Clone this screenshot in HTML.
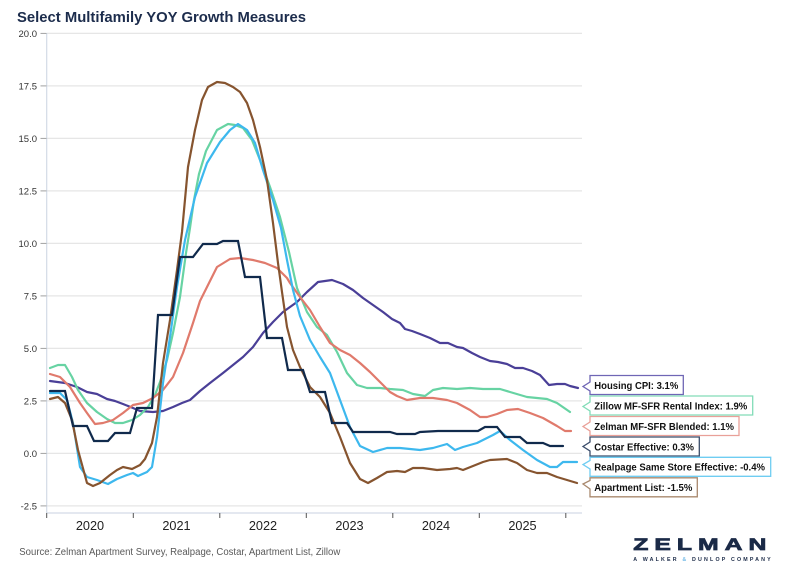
<!DOCTYPE html>
<html><head><meta charset="utf-8"><style>
html,body{margin:0;padding:0;background:#fff;}
svg{display:block;font-family:"Liberation Sans",Arial,sans-serif;}
</style></head><body>
<svg width="800" height="576" viewBox="0 0 800 576" xmlns="http://www.w3.org/2000/svg">
<rect width="800" height="576" fill="#fff"/>
<text x="17" y="22" font-size="15" font-weight="bold" fill="#1c2c4c" textLength="289" lengthAdjust="spacingAndGlyphs">Select Multifamily YOY Growth Measures</text>
<!-- gridlines -->
<g stroke="#e6e6e6" stroke-width="1.3">
<line x1="47" y1="33.4" x2="582" y2="33.4"/>
<line x1="47" y1="85.9" x2="582" y2="85.9"/>
<line x1="47" y1="138.4" x2="582" y2="138.4"/>
<line x1="47" y1="190.9" x2="582" y2="190.9"/>
<line x1="47" y1="243.4" x2="582" y2="243.4"/>
<line x1="47" y1="295.9" x2="582" y2="295.9"/>
<line x1="47" y1="348.4" x2="582" y2="348.4"/>
<line x1="47" y1="400.9" x2="582" y2="400.9"/>
<line x1="47" y1="453.4" x2="582" y2="453.4"/>
<line x1="47" y1="505.9" x2="582" y2="505.9"/>
</g>
<!-- y axis -->
<line x1="46.7" y1="33" x2="46.7" y2="513" stroke="#d3dbe6" stroke-width="1.2"/>
<g stroke="#a0a0a0" stroke-width="1">
<line x1="40.5" y1="33.4" x2="46.5" y2="33.4"/>
<line x1="40.5" y1="85.9" x2="46.5" y2="85.9"/>
<line x1="40.5" y1="138.4" x2="46.5" y2="138.4"/>
<line x1="40.5" y1="190.9" x2="46.5" y2="190.9"/>
<line x1="40.5" y1="243.4" x2="46.5" y2="243.4"/>
<line x1="40.5" y1="295.9" x2="46.5" y2="295.9"/>
<line x1="40.5" y1="348.4" x2="46.5" y2="348.4"/>
<line x1="40.5" y1="400.9" x2="46.5" y2="400.9"/>
<line x1="40.5" y1="453.4" x2="46.5" y2="453.4"/>
<line x1="40.5" y1="505.9" x2="46.5" y2="505.9"/>
</g>
<g font-size="9.5" fill="#333" text-anchor="end">
<text x="37" y="36.8">20.0</text>
<text x="37" y="89.3">17.5</text>
<text x="37" y="141.8">15.0</text>
<text x="37" y="194.3">12.5</text>
<text x="37" y="246.8">10.0</text>
<text x="37" y="299.3">7.5</text>
<text x="37" y="351.8">5.0</text>
<text x="37" y="404.3">2.5</text>
<text x="37" y="456.8">0.0</text>
<text x="37" y="509.3">-2.5</text>
</g>
<!-- x axis -->
<line x1="46.7" y1="513" x2="582" y2="513" stroke="#d3dbe6" stroke-width="1.2"/>
<g stroke="#555" stroke-width="1">
<line x1="46.7" y1="513" x2="46.7" y2="518"/>
<line x1="133.3" y1="513" x2="133.3" y2="518"/>
<line x1="219.8" y1="513" x2="219.8" y2="518"/>
<line x1="306.3" y1="513" x2="306.3" y2="518"/>
<line x1="392.8" y1="513" x2="392.8" y2="518"/>
<line x1="479.3" y1="513" x2="479.3" y2="518"/>
<line x1="565.8" y1="513" x2="565.8" y2="518"/>
</g>
<g font-size="12.7" fill="#222" text-anchor="middle">
<text x="90" y="530">2020</text>
<text x="176.5" y="530">2021</text>
<text x="263" y="530">2022</text>
<text x="349.5" y="530">2023</text>
<text x="436" y="530">2024</text>
<text x="522.5" y="530">2025</text>
</g>
<!-- series -->
<g fill="none" stroke-width="2.2" stroke-linejoin="round" stroke-linecap="round">
<polyline stroke="#4a3f97" points="50,381 65,383 77,387 87,392 97,394 107,399 115,401 123,404 133,408 140,411 153,412 163,411 173,407 182,403 190,400 200,391 210,383 223,373 233,365 243,357 253,347 263,333 273,322 283,312 297,302 307,292 318,282 332,280 343,284 353,290 363,298 373,305 383,312 392,319 400,323 405,329 412,331 420,334 430,338 440,343 448,343 457,347 463,348 472,353 480,357 490,361 498,362 507,364 515,368 523,368 532,371 540,375 549,385 557,384 565,384 570,386 578,388"/>
<polyline stroke="#67d3a3" points="50,368 58,365 65,365 72,377 78,390 87,403 97,412 107,419 115,423 123,423 132,420 140,415 148,407 155,395 160,382 167,360 173,333 180,297 186,253 190,228 194,200 199,174 206,151 217,130 228,124 235,125 243,128 252,140 260,160 270,187 280,217 289,252 297,288 307,312 317,327 327,335 337,352 347,373 357,385 367,388 380,388 390,389 403,390 413,394 425,396 433,390 443,388 457,389 470,388 483,389 500,389 510,392 527,397 547,399 557,403 570,412"/>
<polyline stroke="#e07a6c" points="50,374 60,377 70,387 80,403 87,413 95,424 103,423 113,420 123,413 133,405 143,403 153,398 163,390 173,377 183,353 193,323 200,301 207,287 217,267 230,259 240,258 253,260 265,263 277,268 287,278 290,283 300,297 310,310 320,327 330,343 340,350 350,355 360,363 370,372 380,382 390,392 397,396 407,400 420,398 433,398 447,400 457,403 470,410 480,417 487,417 497,414 507,410 518,409 530,413 543,418 557,426 565,431 571,431"/>
<polyline stroke="#3db8ee" points="50,393 60,393 67,400 73,423 80,467 87,477 97,480 108,484 117,479 127,475 133,473 138,476 147,472 152,467 157,437 163,383 170,337 177,287 185,240 195,197 207,163 220,142 230,130 238,124 247,130 255,143 263,170 273,200 281,228 287,260 293,290 300,316 310,340 320,357 330,373 340,400 350,427 360,446 373,452 387,448 400,448 420,450 433,448 447,444 455,450 463,447 477,443 487,438 493,435 500,431 510,440 523,450 537,460 550,467 557,467 563,462 577,462"/>
<polyline stroke="#86542f" points="50,399 58,397 65,403 72,420 78,450 87,483 93,486 100,483 110,475 117,470 123,467 132,469 140,465 145,459 152,443 157,417 163,363 170,320 177,270 182,232 188,167 195,130 202,100 208,87 217,82 225,83 233,87 240,92 247,103 253,120 260,147 267,180 273,223 278,263 282,292 287,327 293,350 300,367 310,387 320,397 330,413 340,437 350,463 360,479 368,483 377,478 387,472 397,471 405,472 413,468 423,468 437,470 450,469 457,468 463,470 473,466 483,462 490,460 507,459 517,463 527,470 537,473 547,473 557,477 567,480 577,483"/>
<polyline stroke="#102a4c" stroke-linejoin="miter" points="50,391 65,391 73,426 87,426 94,441 108,441 115,433 130,433 137,408 152,408 158,315 172,315 180,257 193,257 203,244 217,244 223,241 238,241 245,277 260,277 267,338 282,338 288,370 303,370 310,392 325,392 332,423 347,423 353,432 390,432 397,434 415,434 420,432 438,431 478,431 485,427 497,427 505,437 520,437 527,443 543,443 550,446 563,446"/>
</g>
<!-- labels -->
<g stroke-width="1.3" fill="#fff">
<path stroke="#6f66b5" d="M590,375.5 H683.3 V394.5 H590 V391 L583,386.5 L590,382 Z"/>
<path stroke="#82dcb8" d="M590,396 H752.7 V415 H590 V411 L583,406.5 L590,402 Z"/>
<path stroke="#e9a098" d="M590,416.5 H739 V435.5 H590 V431 L583,426.5 L590,422 Z"/>
<path stroke="#3b4d6b" d="M590,437 H699.3 V456 H590 V451 L583,446.5 L590,442 Z"/>
<path stroke="#6fcdf2" d="M590,457.3 H770.7 V476.3 H590 V469 L583,464.5 L590,460.5 Z"/>
<path stroke="#a9896e" d="M590,477.8 H697.3 V496.8 H590 V489 L583,484 L590,480.5 Z"/>
</g>
<g font-size="10" font-weight="bold" fill="#111">
<text x="594.3" y="388.8" textLength="84" lengthAdjust="spacingAndGlyphs">Housing CPI: 3.1%</text>
<text x="594.3" y="409.3" textLength="153" lengthAdjust="spacingAndGlyphs">Zillow MF-SFR Rental Index: 1.9%</text>
<text x="594.3" y="429.8" textLength="139.7" lengthAdjust="spacingAndGlyphs">Zelman MF-SFR Blended: 1.1%</text>
<text x="594.3" y="450.3" textLength="99.7" lengthAdjust="spacingAndGlyphs">Costar Effective: 0.3%</text>
<text x="594.3" y="470.6" textLength="170.7" lengthAdjust="spacingAndGlyphs">Realpage Same Store Effective: -0.4%</text>
<text x="594.3" y="491.1" textLength="98" lengthAdjust="spacingAndGlyphs">Apartment List: -1.5%</text>
</g>
<!-- source -->
<text x="19.3" y="555" font-size="10" fill="#595959" textLength="321" lengthAdjust="spacingAndGlyphs">Source: Zelman Apartment Survey, Realpage, Costar, Apartment List, Zillow</text>
<!-- logo -->
<g transform="translate(633.3,550) scale(1.5,1)">
<text x="0" y="0" font-size="16.5" font-weight="900" fill="#1b2a47" stroke="#1b2a47" stroke-width="0.7" letter-spacing="4">ZELMAN</text>
</g>
<text x="633.3" y="561.2" font-size="5.3" font-weight="bold" fill="#1b2a47" textLength="137.4" lengthAdjust="spacing">A WALKER <tspan fill="#6fb8e6">&amp;</tspan> DUNLOP COMPANY</text>
</svg>
</body></html>
